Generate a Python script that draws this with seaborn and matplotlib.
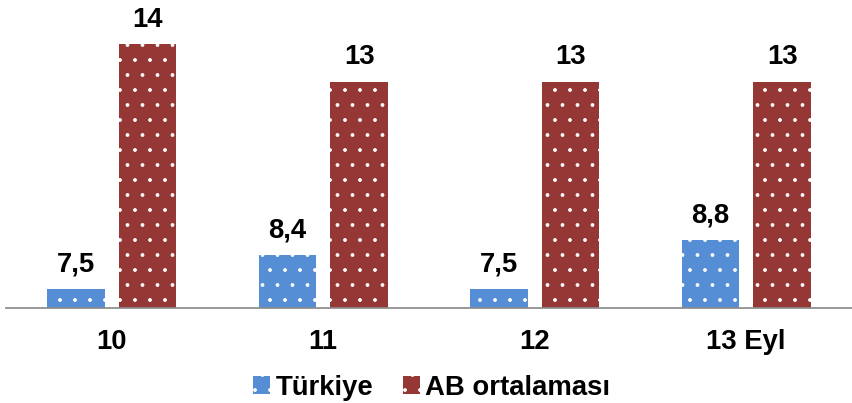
import matplotlib
matplotlib.use("Agg")
import matplotlib.pyplot as plt
from matplotlib.patches import Patch
import seaborn as sns
import pandas as pd

categories = ["10", "11", "12", "13 Eyl"]
series_names = ["Türkiye", "AB ortalaması"]
turkiye = [7.5, 8.4, 7.5, 8.8]
ab_avg = [14, 13, 13, 13]
colors = ["#558ED5", "#953735"]

df = pd.DataFrame({
    "donem": categories * 2,
    "seri": [series_names[0]] * len(categories) + [series_names[1]] * len(categories),
    "deger": turkiye + ab_avg,
})

DPI = 90
sns.set_theme(style="white")
plt.rcParams["font.family"] = ["Liberation Sans", "DejaVu Sans"]
plt.rcParams["hatch.linewidth"] = 0.6
plt.rcParams["text.color"] = "black"

fig = plt.figure(figsize=(852 / DPI, 403 / DPI), dpi=DPI)
ax = fig.add_axes([0.007, 0.236, 0.993, 0.749])

sns.barplot(data=df, x="donem", y="deger", hue="seri", order=categories,
            hue_order=series_names, palette=colors, width=0.68, gap=0.2,
            legend=False, ax=ax, saturation=1)

# white dotted fill on every bar
for bar in ax.patches:
    bar.set_hatch(".")
    bar.set_edgecolor("white")
    bar.set_linewidth(0)

FS = 22
for container in ax.containers:
    labels = [f"{v:g}".replace(".", ",") for v in container.datavalues]
    ax.bar_label(container, labels=labels, padding=9, fontsize=FS,
                 fontweight="bold", color="black")

ax.set_ylim(7, 15)
ax.set_xlim(-0.5, 3.5)
ax.set_xlabel("")
ax.set_ylabel("")
ax.set_yticks([])
ax.tick_params(axis="x", length=0, pad=17, labelsize=FS, labelcolor="black")
for lbl in ax.get_xticklabels():
    lbl.set_fontweight("bold")
for side in ["top", "right", "left"]:
    ax.spines[side].set_visible(False)
ax.spines["bottom"].set_color("#8c8c8c")
ax.spines["bottom"].set_linewidth(1.4)

handles = [Patch(facecolor=c, edgecolor="white", hatch=".", linewidth=0) for c in colors]
fig.legend(handles, series_names, loc="center", bbox_to_anchor=(0.507, 0.038),
           ncol=2, frameon=False, handlelength=0.6, handleheight=0.6,
           handletextpad=0.2, columnspacing=1.1, borderpad=0.1,
           prop={"size": FS, "weight": "bold"})

fig.savefig("out.png", dpi=DPI)
